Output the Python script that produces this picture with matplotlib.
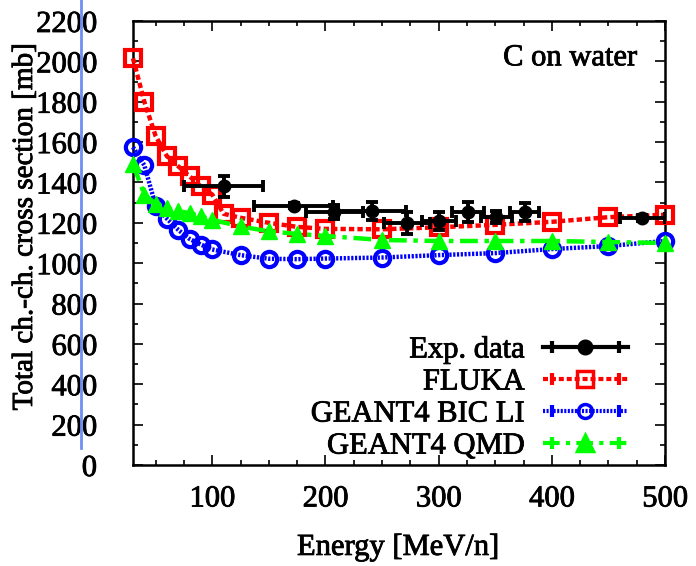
import matplotlib
matplotlib.use("Agg")
import matplotlib.pyplot as plt
import matplotlib.patheffects as pe
from matplotlib.lines import Line2D
from matplotlib.legend_handler import HandlerLine2D, HandlerTuple

# values
fluka_e = [30, 40, 50, 60, 70, 80, 90, 100, 110, 125, 150, 175, 200, 250, 300, 350, 400, 450, 500]
fluka_cs = [2015, 1800, 1630, 1530, 1480, 1430, 1380, 1340, 1245, 1225, 1200, 1180, 1170, 1168, 1178, 1190, 1205, 1228, 1240]

bic_e = [30, 40, 50, 60, 70, 80, 90, 100, 125, 150, 175, 200, 250, 300, 350, 400, 450, 500]
bic_cs = [1575, 1485, 1285, 1220, 1165, 1120, 1092, 1068, 1040, 1022, 1020, 1023, 1028, 1040, 1050, 1070, 1085, 1110]

qmd_e = [30, 40, 50, 60, 70, 80, 90, 100, 125, 150, 175, 200, 250, 300, 350, 400, 450, 500]
qmd_cs = [1492, 1340, 1295, 1272, 1258, 1248, 1232, 1215, 1182, 1158, 1145, 1135, 1115, 1110, 1110, 1110, 1105, 1100]

exp_e = [110, 172, 208, 241, 272, 300, 326, 351, 376, 480]
exp_cs = [1380, 1285, 1255, 1260, 1200, 1210, 1252, 1228, 1252, 1222]
exp_dx = [35, 35, 25, 30, 20, 15, 14, 14, 13, 20]
exp_dy = [50, 12, 35, 45, 55, 45, 50, 30, 45, 15]

labels = ["Exp. data", "FLUKA", "GEANT4 BIC LI", "GEANT4 QMD"]

plt.rcParams["font.family"] = ["Liberation Serif", "DejaVu Serif"]
plt.rcParams["font.size"] = 22

fig = plt.figure(figsize=(6.96, 5.66), dpi=100)
ax = fig.add_axes([0.1911, 0.1784, 0.7644, 0.7845])

red_ls = (0, (1.2, 0.7))
blue_ls = (0, (0.5, 0.35))
green_ls = (0, (4, 1.5, 1, 1.5))
green = "#00ff00"

ax.plot(fluka_e, fluka_cs, color="#ff0000", lw=3.2, ls=red_ls, marker="s", ms=12,
        mfc="none", mew=3, clip_on=False, zorder=3)
ax.plot(bic_e, bic_cs, color="#0000ff", lw=3.2, ls=blue_ls, marker="o", ms=11,
        mfc="none", mew=3, clip_on=False, zorder=3)
ax.plot(qmd_e, qmd_cs, color=green, lw=3.2, ls=green_ls, marker="^", ms=12,
        clip_on=False, zorder=3)
ax.errorbar(exp_e, exp_cs, xerr=exp_dx, yerr=exp_dy, fmt="o", color="k", ms=9,
            elinewidth=2.8, capsize=4, capthick=2.8, zorder=4)

ax.set_xlim(30, 500)
ax.set_ylim(0, 2200)
ax.set_xticks([100, 200, 300, 400, 500])
ax.set_xticks(range(50, 500, 25), minor=True)
ax.set_yticks(range(0, 2201, 200))
ax.set_yticks(range(100, 2200, 200), minor=True)
ax.tick_params(which="both", direction="in", top=True, right=True, width=1.2)
ax.tick_params(which="major", length=7)
ax.tick_params(which="minor", length=3.5)
ax.tick_params(axis="x", pad=14)
ax.tick_params(axis="y", pad=26)
for s in ax.spines.values():
    s.set_linewidth(1.8)

ax.set_xlabel("Energy [MeV/n]")
ax.xaxis.set_label_coords(0.498, -0.185)
ax.xaxis.label.set_va("center")
ax.set_ylabel("Total ch.-ch. cross section [mb]", fontsize=21)
ax.yaxis.set_label_coords(-0.203, 0.536)
ax.yaxis.label.set_va("center")

title = ax.text(0.947, 0.917, "C on water", transform=ax.transAxes, ha="right", va="center")

# legend: sample line, middle marker and end caps, text on the left
styles = [("k", "-", "o", "k", 9),
          ("#ff0000", red_ls, "s", "none", 11),
          ("#0000ff", blue_ls, "o", "none", 10),
          (green, green_ls, "^", green, 11)]
handles = []
hmap = {}
for col, ls, mk, mfc, ms in styles:
    main = Line2D([], [], color=col, ls=ls, lw=3, marker=mk, ms=ms, mfc=mfc, mew=2.5)
    caps = Line2D([], [], color=col, ls="none", marker="|", ms=8, mew=3)
    hmap[caps] = HandlerLine2D(numpoints=2)
    handles.append((main, caps))
hmap[tuple] = HandlerTuple(ndivide=1)
leg = ax.legend(handles, labels, handler_map=hmap, loc="lower right",
                bbox_to_anchor=(0.93, 0.01), markerfirst=False, frameon=False,
                handlelength=2.78, handletextpad=0.6, labelspacing=0.1,
                borderpad=0, borderaxespad=0, numpoints=1)

# slightly heavier text, like the reference rendering
heavy = [pe.withStroke(linewidth=0.6, foreground="k")]
texts = [ax.xaxis.label, ax.yaxis.label, title] + leg.get_texts()
texts += ax.get_xticklabels() + ax.get_yticklabels()
for t in texts:
    t.set_path_effects(heavy)

# stray blue vertical line in the reference image
fig.add_artist(Line2D([81 / 696, 81 / 696], [1.0, 1 - 448 / 566], color="#6f8ff0", lw=2))

fig.savefig("out.png", dpi=100)
